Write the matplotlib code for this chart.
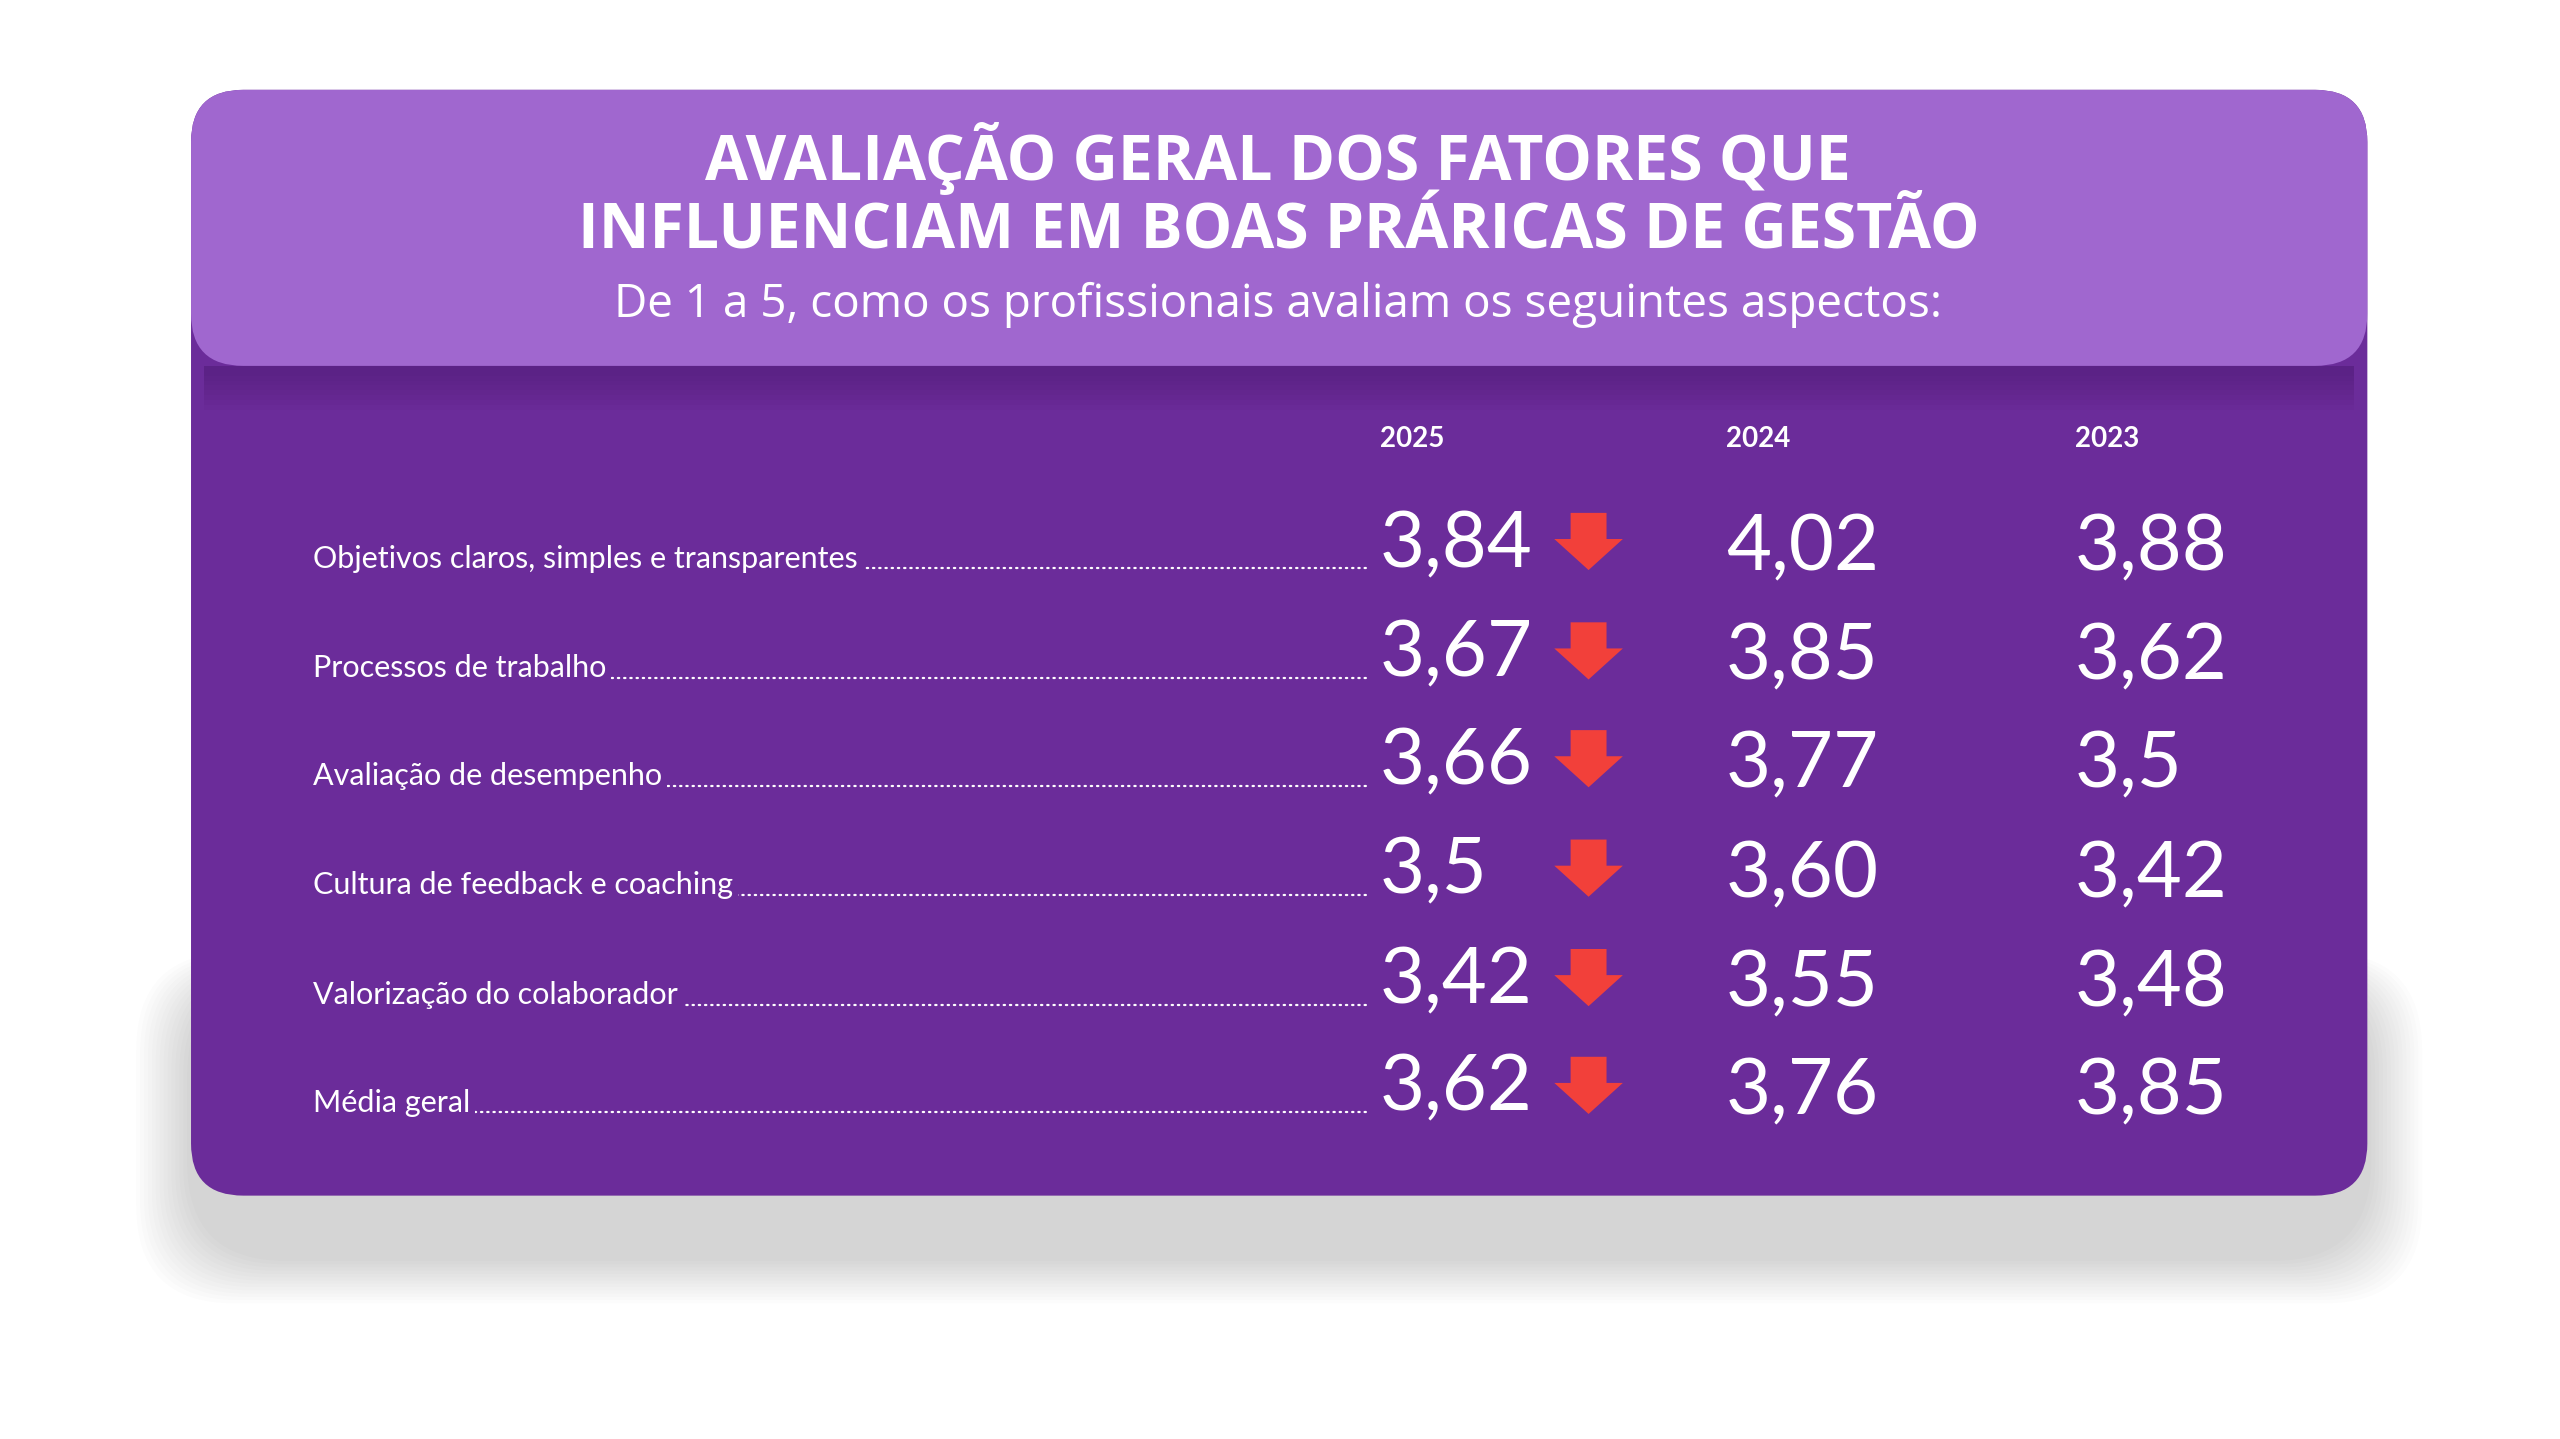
import matplotlib
matplotlib.use("Agg")
import matplotlib.pyplot as plt
from matplotlib.patches import FancyBboxPatch, Polygon, Rectangle

title_lines = ["AVALIAÇÃO GERAL DOS FATORES QUE", "INFLUENCIAM EM BOAS PRÁRICAS DE GESTÃO"]
subtitle = "De 1 a 5, como os profissionais avaliam os seguintes aspectos:"
years = ["2025", "2024", "2023"]
categories = ["Objetivos claros, simples e transparentes", "Processos de trabalho",
              "Avaliação de desempenho", "Cultura de feedback e coaching",
              "Valorização do colaborador", "Média geral"]
v2025 = ["3,84", "3,67", "3,66", "3,5", "3,42", "3,62"]
v2024 = ["4,02", "3,85", "3,77", "3,60", "3,55", "3,76"]
v2023 = ["3,88", "3,62", "3,5", "3,42", "3,48", "3,85"]

W, H = 1568, 881
fig = plt.figure(figsize=(25.6, 14.39), dpi=100)
ax = fig.add_axes([0, 0, 1, 1])
ax.set_xlim(0, W); ax.set_ylim(H, 0); ax.axis("off")
fig.patch.set_facecolor("white")

# shadow
for i in range(14):
    pad = 4 + i * 4
    ax.add_patch(FancyBboxPatch((117 - pad*0.6, 600 - pad*0.3), 1333 + pad*1.2, 170 + pad*0.8,
                 boxstyle="round,pad=0,rounding_size=60", fc="#000000", ec="none", alpha=0.012, zorder=0))
purple = "#6B2C9A"
ax.add_patch(FancyBboxPatch((117, 55), 1333, 677, boxstyle="round,pad=0,rounding_size=32",
             fc=purple, ec="none", zorder=1))
# header shadow
for i in range(8):
    ax.add_patch(Rectangle((125, 224), 1317, 6 + i*3, fc="#3a0f5c", ec="none", alpha=0.04, zorder=1.5))
ax.add_patch(FancyBboxPatch((117, 55), 1333, 169, boxstyle="round,pad=0,rounding_size=32",
             fc="#A067CF", ec="none", zorder=2))

ax.text(783, 97, title_lines[0], color="white", fontsize=45, fontweight="bold",
        family="Open Sans", ha="center", va="center", zorder=3)
ax.text(783, 142, title_lines[1], color="white", fontsize=45, fontweight="bold",
        family="Open Sans", ha="center", va="center", zorder=3)
ax.text(783, 187, subtitle, color="white", fontsize=33, family="Open Sans",
        ha="center", va="center", zorder=3)

col_x = [845, 1057, 1271]
for x, yr in zip(col_x, years):
    ax.text(x, 269, yr, color="white", fontsize=20, fontweight="bold", family="Lato",
            ha="left", va="center", zorder=3)

row_y = [342, 409, 475, 542, 609, 675]
red = "#F2403A"
for i, (cat, y) in enumerate(zip(categories, row_y)):
    ax.plot([192, 838], [y + 6, y + 6], color="white", lw=1.6, ls=(0, (0.6, 2.2)),
            zorder=3, solid_capstyle="round", dash_capstyle="round")
    ax.text(192, y, cat, color="white", fontsize=22, family="Lato", ha="left", va="center",
            zorder=4, bbox=dict(boxstyle="square,pad=0.15", fc=purple, ec="none"))
    ax.text(845, y - 8, v2025[i], color="white", fontsize=56, family="Lato", ha="left",
            va="center", zorder=4)
    ax.text(1057, y - 6, v2024[i], color="white", fontsize=56, family="Lato", ha="left",
            va="center", zorder=4)
    ax.text(1271, y - 6, v2023[i], color="white", fontsize=56, family="Lato", ha="left",
            va="center", zorder=4)
    cx, top = 973, y - 28
    ax.add_patch(Polygon([(cx - 11, top), (cx + 11, top), (cx + 11, top + 16), (cx + 21, top + 16),
                          (cx, top + 35), (cx - 21, top + 16), (cx - 11, top + 16)],
                         closed=True, fc=red, ec="none", zorder=4))

fig.savefig("out.png", dpi=100, facecolor="white")
